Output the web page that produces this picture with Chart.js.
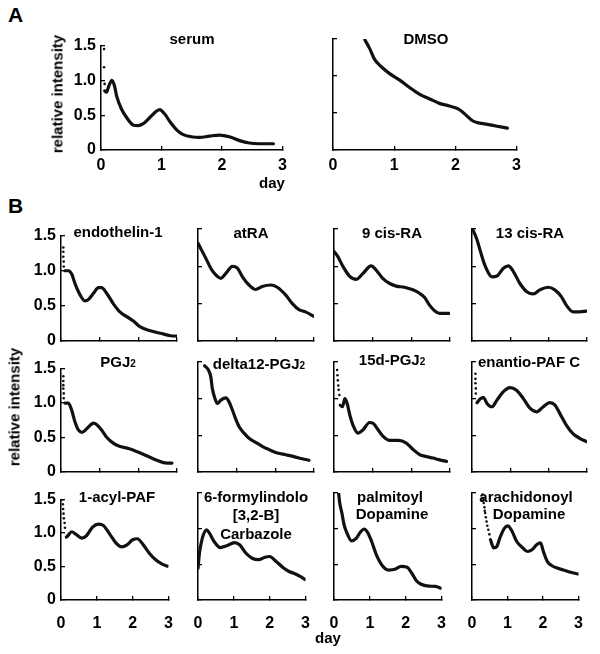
<!DOCTYPE html>
<html><head><meta charset="utf-8">
<script src="https://cdn.jsdelivr.net/npm/chart.js@4/dist/chart.umd.min.js"></script>
<style>
html,body{margin:0;padding:0;background:#fff;}
body{width:600px;height:654px;position:relative;overflow:hidden;font-family:"Liberation Sans",Arial,sans-serif;font-weight:bold;color:#000;}
canvas{position:absolute;}
.t{position:absolute;transform:translate(-50%,-50%);font-size:15px;line-height:15px;white-space:nowrap;}
.s{font-size:10px;}
.letter{position:absolute;font-size:21px;line-height:21px;}
.ylab{position:absolute;font-size:15px;line-height:15px;transform:translate(-50%,-50%) rotate(-90deg);white-space:nowrap;}
</style></head><body>
<script>
// ---- tick labels ----
const xTickValues = [0, 1, 2, 3];
const xTickLabels = ['0', '1', '2', '3'];
const yTickValues = [0, 0.5, 1.0, 1.5];
const yTickLabels = ['0', '0.5', '1.0', '1.5'];

// ---- A: serum ----
const serumX = [0.06,0.09,0.13,0.18,0.22,0.26,0.34,0.42,0.53,0.61,0.70,0.81,0.92,0.97,1.05,1.14,1.25,1.35,1.49,1.63,1.79,1.96,2.12,2.29,2.45,2.62,2.85];
const serumY = [0.85,0.83,0.92,1.00,0.93,0.77,0.585,0.47,0.36,0.35,0.38,0.47,0.56,0.58,0.52,0.405,0.29,0.225,0.19,0.18,0.20,0.215,0.19,0.135,0.10,0.09,0.09];
const serumDotX = [0.05,0.05,0.06];
const serumDotY = [1.45,1.19,0.95];
// ---- A: DMSO ----
const dmsoX = [0.52,0.60,0.68,0.79,0.92,1.09,1.25,1.41,1.58,1.74,1.90,2.06,2.17,2.28,2.36,2.50,2.66,2.85];
const dmsoY = [1.49,1.37,1.225,1.125,1.035,0.945,0.845,0.755,0.69,0.63,0.595,0.55,0.475,0.395,0.37,0.35,0.325,0.295];

// ---- B ----
const endoX = [0.10,0.19,0.28,0.36,0.49,0.62,0.71,0.84,0.97,1.05,1.18,1.36,1.53,1.75,1.88,2.05,2.31,2.57,2.83,3.0];
const endoY = [1.0,1.0,0.95,0.82,0.66,0.57,0.59,0.68,0.76,0.76,0.68,0.525,0.41,0.33,0.28,0.20,0.145,0.11,0.075,0.07];
const endoDotX = [0.06,0.06,0.06,0.07,0.07];
const endoDotY = [1.33,1.27,1.20,1.13,1.06];

const atraX = [0,0.07,0.2,0.33,0.46,0.59,0.72,0.89,1.02,1.15,1.32,1.49,1.66,1.88,2.05,2.27,2.44,2.61,2.78,3.0];
const atraY = [1.31,1.24,1.11,0.975,0.885,0.84,0.905,1.0,0.975,0.86,0.75,0.69,0.73,0.75,0.72,0.615,0.5,0.42,0.39,0.33];

const cis9X = [0,0.10,0.23,0.40,0.58,0.75,0.96,1.09,1.26,1.44,1.61,1.82,2.04,2.21,2.34,2.47,2.60,2.73,2.98];
const cis9Y = [1.20,1.13,1.0,0.87,0.825,0.905,1.005,0.95,0.84,0.77,0.735,0.72,0.685,0.64,0.585,0.48,0.405,0.37,0.37];

const cis13X = [0,0.04,0.13,0.22,0.30,0.39,0.52,0.65,0.82,0.95,1.08,1.25,1.43,1.60,1.77,1.99,2.16,2.33,2.46,2.64,2.81,2.98];
const cis13Y = [1.50,1.47,1.355,1.20,1.065,0.95,0.86,0.87,0.975,1.005,0.93,0.77,0.66,0.63,0.685,0.72,0.685,0.595,0.48,0.39,0.39,0.40];

const pgj2X = [0.10,0.19,0.28,0.36,0.45,0.54,0.67,0.84,0.92,1.05,1.18,1.36,1.53,1.75,1.97,2.22,2.48,2.74,2.87];
const pgj2Y = [1.0,1.0,0.89,0.73,0.61,0.575,0.63,0.71,0.69,0.61,0.505,0.415,0.37,0.34,0.295,0.235,0.17,0.13,0.13];
const pgj2DotX = [0.06,0.06,0.06,0.06,0.07,0.07];
const pgj2DotY = [1.39,1.32,1.26,1.21,1.14,1.07];

const d12X = [0.17,0.27,0.33,0.37,0.44,0.50,0.59,0.72,0.80,0.89,0.97,1.06,1.19,1.32,1.49,1.66,1.84,2.05,2.27,2.48,2.70,2.87];
const d12Y = [1.45,1.39,1.30,1.14,1.0,0.935,0.98,1.01,0.96,0.845,0.73,0.62,0.53,0.46,0.405,0.35,0.305,0.26,0.235,0.21,0.18,0.16];

const d15X = [0.16,0.22,0.28,0.34,0.41,0.49,0.62,0.75,0.92,1.01,1.14,1.27,1.44,1.66,1.87,2.04,2.22,2.39,2.56,2.73,2.91];
const d15Y = [0.91,0.89,1.0,0.935,0.775,0.64,0.53,0.575,0.675,0.665,0.575,0.485,0.43,0.43,0.395,0.31,0.235,0.21,0.19,0.165,0.145];
const d15DotX = [0.08,0.09,0.10,0.11,0.12,0.14];
const d15DotY = [1.39,1.32,1.25,1.18,1.12,1.05];

const enX = [0.13,0.22,0.30,0.39,0.52,0.65,0.82,0.99,1.16,1.34,1.51,1.69,1.86,2.03,2.16,2.29,2.46,2.64,2.81,2.98];
const enY = [0.945,1.0,1.015,0.935,0.89,0.98,1.095,1.15,1.115,1.0,0.87,0.82,0.89,0.945,0.915,0.80,0.64,0.52,0.46,0.415];
const enDotX = [0.09,0.09,0.09,0.10,0.10];
const enDotY = [1.34,1.27,1.21,1.14,1.07];

const acylX = [0.15,0.19,0.30,0.41,0.58,0.71,0.88,1.05,1.18,1.36,1.53,1.70,1.83,2.0,2.13,2.30,2.47,2.64,2.81,2.97];
const acylY = [0.94,0.96,1.02,0.985,0.925,0.96,1.09,1.135,1.115,0.985,0.855,0.795,0.82,0.90,0.915,0.82,0.695,0.60,0.54,0.505];
const acylDotX = [0.04,0.05,0.06,0.07,0.08,0.10,0.11];
const acylDotY = [1.50,1.43,1.36,1.29,1.22,1.15,1.08];

const formylX = [0,0.04,0.09,0.15,0.24,0.31,0.45,0.62,0.80,1.02,1.16,1.34,1.51,1.69,1.87,2.0,2.18,2.36,2.54,2.72,2.85,2.98];
const formylY = [0.445,0.655,0.80,0.915,0.985,0.945,0.82,0.735,0.76,0.805,0.775,0.655,0.585,0.565,0.60,0.61,0.54,0.46,0.40,0.365,0.33,0.29];

const palmX = [0.13,0.16,0.22,0.28,0.36,0.49,0.62,0.75,0.84,0.94,1.05,1.18,1.35,1.52,1.70,1.87,2.04,2.17,2.30,2.43,2.65,2.83,2.98];
const palmY = [1.49,1.36,1.22,1.055,0.94,0.83,0.865,0.96,0.995,0.945,0.82,0.635,0.48,0.42,0.43,0.47,0.46,0.375,0.27,0.22,0.195,0.19,0.165];

const arachX = [0.52,0.61,0.70,0.78,0.91,1.01,1.13,1.26,1.43,1.56,1.69,1.82,1.93,2.01,2.12,2.25,2.42,2.64,2.81,2.98];
const arachY = [0.845,0.73,0.75,0.865,1.005,1.04,0.96,0.82,0.73,0.68,0.705,0.775,0.80,0.68,0.54,0.48,0.445,0.41,0.385,0.365];
const arachDotX = [0.30,0.31,0.32,0.33,0.35,0.36,0.37,0.39,0.41,0.43,0.46,0.49];
const arachDotY = [1.48,1.43,1.40,1.36,1.30,1.25,1.22,1.16,1.10,1.04,0.985,0.92];

// ---- layout (plot-area boxes: left, right, top, bottom) ----
const C1=[61,177], C2=[198,314], C3=[334,450], C4=[472,587];
const R1=[229,341], R2=[362,472], R3=[493,600];
const panels = [
  {x:serumX, y:serumY, dx:serumDotX, dy:serumDotY, box:[101,283,39,150], yl:true, xl:true, xp:10},
  {x:dmsoX, y:dmsoY, box:[333,517,39,150], yl:false, xl:true, xp:10},
  {x:endoX, y:endoY, dx:endoDotX, dy:endoDotY, box:[...C1,...R1], yl:true, xl:false},
  {x:atraX, y:atraY, box:[...C2,...R1], yl:false, xl:false},
  {x:cis9X, y:cis9Y, box:[...C3,...R1], yl:false, xl:false},
  {x:cis13X, y:cis13Y, box:[...C4,...R1], yl:false, xl:false},
  {x:pgj2X, y:pgj2Y, dx:pgj2DotX, dy:pgj2DotY, box:[...C1,...R2], yl:true, xl:false},
  {x:d12X, y:d12Y, box:[...C2,...R2], yl:false, xl:false},
  {x:d15X, y:d15Y, dx:d15DotX, dy:d15DotY, box:[...C3,...R2], yl:false, xl:false},
  {x:enX, y:enY, dx:enDotX, dy:enDotY, box:[...C4,...R2], yl:false, xl:false},
  {x:acylX, y:acylY, dx:acylDotX, dy:acylDotY, box:[...C1,...R3], yl:true, xl:true, xp:18},
  {x:formylX, y:formylY, box:[...C2,...R3], yl:false, xl:true, xp:18},
  {x:palmX, y:palmY, box:[...C3,...R3], yl:false, xl:true, xp:18},
  {x:arachX, y:arachY, dx:arachDotX, dy:arachDotY, box:[...C4,...R3], yl:false, xl:true, xp:18},
];

const YW=48, PR=14, PT=12, XH=40;
const FONT = {family:'"Liberation Sans", Arial, sans-serif', size:16, weight:'bold'};
const INK = '#111';

function makeChart(p){
  const [l,r,t,b] = p.box;
  const W = YW + (r-l) + PR, H = PT + (b-t) + XH;
  const c = document.createElement('canvas');
  c.width = W; c.height = H;
  c.style.left = (l-YW)+'px'; c.style.top = (t-PT)+'px';
  c.style.width = W+'px'; c.style.height = H+'px';
  document.body.appendChild(c);
  const datasets = [{
    data: p.x.map((v,i)=>({x:v, y:p.y[i]})),
    showLine:true, borderColor:INK, borderWidth:3.2, pointRadius:0,
    cubicInterpolationMode:'monotone', borderCapStyle:'round', borderJoinStyle:'round'
  }];
  if (p.dx) datasets.push({
    data: p.dx.map((v,i)=>({x:v, y:p.dy[i]})),
    showLine:false, pointRadius:1.3, pointBorderWidth:0, backgroundColor:INK, pointBackgroundColor:INK
  });
  const grid = {display:true, drawOnChartArea:false, drawTicks:true, tickLength:-4, color:'#000', lineWidth:1.3};
  const border = {display:true, color:'#000', width:1.5};
  new Chart(c, {
    type:'scatter',
    data:{datasets},
    options:{
      responsive:false, devicePixelRatio:1, animation:false, events:[],
      layout:{padding:{left:0, right:PR, top:PT, bottom:0}},
      plugins:{legend:{display:false}, tooltip:{enabled:false}, title:{display:false}},
      scales:{
        x:{type:'linear', min:0, max:3,
           afterBuildTicks:s=>{s.ticks = xTickValues.map(v=>({value:v}));},
           afterFit:s=>{s.height = XH;},
           ticks:{display:p.xl, padding:p.xp||8, font:FONT, color:'#000', maxRotation:0, autoSkip:false,
                  callback:(v,i)=>xTickLabels[i]},
           grid, border},
        y:{type:'linear', min:0, max:1.5,
           afterBuildTicks:s=>{s.ticks = yTickValues.map(v=>({value:v}));},
           afterFit:s=>{s.width = YW;},
           ticks:{display:p.yl, padding:9, font:FONT, color:'#000', autoSkip:false,
                  callback:(v,i)=>yTickLabels[i]},
           grid, border}
      }
    }
  });
}
panels.forEach(makeChart);
</script>

<div class="letter" style="left:8px;top:4px;">A</div>
<div class="letter" style="left:8px;top:195px;">B</div>

<div class="ylab" style="left:57px;top:94px;">relative intensity</div>
<div class="ylab" style="left:14px;top:407px;">relative intensity</div>
<div class="t" style="left:272px;top:182px;">day</div>
<div class="t" style="left:328px;top:637px;">day</div>

<div class="t" style="left:192px;top:38px;">serum</div>
<div class="t" style="left:426px;top:38px;">DMSO</div>

<div class="t" style="left:118px;top:231px;">endothelin-1</div>
<div class="t" style="left:251px;top:232px;">atRA</div>
<div class="t" style="left:392px;top:232px;">9 cis-RA</div>
<div class="t" style="left:530px;top:232px;">13 cis-RA</div>

<div class="t" style="left:118px;top:362px;">PGJ<span class="s">2</span></div>
<div class="t" style="left:259px;top:364px;">delta12-PGJ<span class="s">2</span></div>
<div class="t" style="left:392px;top:360px;">15d-PGJ<span class="s">2</span></div>
<div class="t" style="left:529px;top:361px;">enantio-PAF C</div>

<div class="t" style="left:117px;top:496px;">1-acyl-PAF</div>
<div class="t" style="left:256px;top:496px;">6-formylindolo</div>
<div class="t" style="left:256px;top:514px;">[3,2-B]</div>
<div class="t" style="left:256px;top:533px;">Carbazole</div>
<div class="t" style="left:390px;top:496px;">palmitoyl</div>
<div class="t" style="left:392px;top:513px;">Dopamine</div>
<div class="t" style="left:526px;top:496px;">arachidonoyl</div>
<div class="t" style="left:529px;top:513px;">Dopamine</div>
</body></html>
